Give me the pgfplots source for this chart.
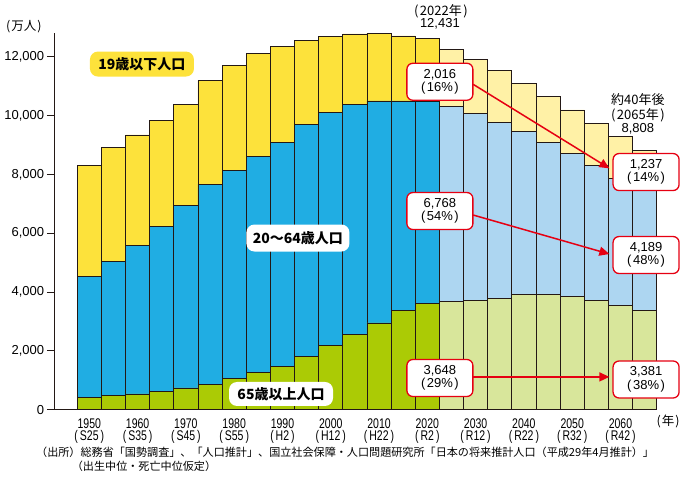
\documentclass[border=0pt]{standalone}
\usepackage{pgfplots}
\pgfplotsset{compat=1.18}
\usepackage{pgfplotstable}
\usepackage{fontspec}
\usetikzlibrary{arrows.meta}
\setmainfont{Noto Sans CJK JP}
\newfontfamily\nf{Liberation Sans}
\newfontfamily\nfc[FakeStretch=0.75]{Liberation Sans}

\definecolor{yel}{HTML}{FDE23B}
\definecolor{blu}{HTML}{20ADE3}
\definecolor{grn}{HTML}{ABCB05}
\definecolor{lyel}{HTML}{FFF1A6}
\definecolor{lblu}{HTML}{ADD6F1}
\definecolor{lgrn}{HTML}{D8E69B}
\definecolor{calred}{HTML}{E60012}
\definecolor{edge}{HTML}{231815}

\newcommand{\pp}[1]{(\kern2pt#1\kern2pt)}

% g/b/y = 65+, 20-64, 0-19 (actual); G/B/Y = projection
\pgfplotstableread{
year g b y G B Y
1950 410 4110 3800 0 0 0
1955 476 4580 3872 0 0 0
1960 534 5056 3752 0 0 0
1965 625 5597 3606 0 0 0
1970 738 6212 3422 0 0 0
1975 864 6810 3520 0 0 0
1980 1070 7070 3566 0 0 0
1985 1260 7356 3489 0 0 0
1990 1480 7612 3269 0 0 0
1995 1820 7884 2853 0 0 0
2000 2200 7900 2593 0 0 0
2005 2567 7817 2393 0 0 0
2010 2950 7550 2306 0 0 0
2015 3390 7110 2209 0 0 0
2020 3617 6883 2115 0 0 0
2025 0 0 0 3677 6636 1941
2030 0 0 0 3716 6372 1825
2035 0 0 0 3782 5983 1757
2040 0 0 0 3921 5555 1616
2045 0 0 0 3919 5159 1564
2050 0 0 0 3841 4877 1474
2055 0 0 0 3704 4616 1424
2060 0 0 0 3540 4328 1416
2065 0 0 0 3381 4190 1237
}\pop

\pgfplotsset{frame/.style={
  at={(54.3pt,67.3pt)}, anchor=south west,
  scale only axis, width=602.4pt, height=376.4pt,
  xmin=1942.75, xmax=2067.5, ymin=0, ymax=12800, clip=false}}

\begin{document}
\begin{tikzpicture}[
  callout/.style={draw=calred, line width=1.3pt, fill=white, rounded corners=6pt,
    minimum width=66pt, minimum height=37pt, align=center, inner sep=0pt,
    font=\nf\fontsize{13}{13.5}\selectfont},
  grp/.style={rounded corners=8pt, minimum height=25pt, inner sep=0pt,
    font=\bfseries\fontsize{14}{14}\selectfont},
  arr/.style={calred, line width=1.5pt, -{Triangle[length=10pt,width=9pt]}},
  note/.style={font=\fontsize{13}{13.5}\selectfont, align=center, inner sep=0pt}]
\useasboundingbox (0,0) rectangle (681pt,477pt);
\begin{axis}[frame,
  ybar stacked, bar width=5,
  axis x line=bottom, axis y line=left,
  axis line style={edge, line width=0.9pt, -},
  ytick={0,2000,...,12000},
  scaled y ticks=false,
  tick align=outside, major tick length=7.5pt,
  ytick style={edge, line width=0.9pt},
  xtick={1950,1960,...,2060},
  xtick style={draw=none},
  xticklabels={{1950\\\pp{S25}},{1960\\\pp{S35}},{1970\\\pp{S45}},{1980\\\pp{S55}},
    {1990\\\pp{H2}},{2000\\\pp{H12}},{2010\\\pp{H22}},{2020\\\pp{R2}},
    {2030\\\pp{R12}},{2040\\\pp{R22}},{2050\\\pp{R32}},{2060\\\pp{R42}}},
  xticklabel style={align=center, font=\nfc\fontsize{14}{12.5}\selectfont, inner sep=0pt, yshift=-1pt},
  yticklabel style={font=\nf\fontsize{13}{13}\selectfont, inner sep=0pt, xshift=-2.5pt},
  /pgf/number format/assume math mode=true,
  /pgf/number format/1000 sep={,},
  every axis plot/.append style={draw=edge, line width=0.8pt},
]
\addplot[fill=grn] table[x=year,y=g] {\pop};
\addplot[fill=blu] table[x=year,y=b] {\pop};
\addplot[fill=yel] table[x=year,y=y] {\pop};
\addplot[fill=lgrn] table[x=year,y=G] {\pop};
\addplot[fill=lblu] table[x=year,y=B] {\pop};
\addplot[fill=lyel] table[x=year,y=Y] {\pop};
\end{axis}
\begin{axis}[frame, hide axis]
\node[grp, fill=yel, minimum width=104pt] at (axis cs:1960.9,11754) {19歳以下人口};
\node[grp, fill=white, minimum width=103pt, minimum height=27pt] at (axis cs:1993.2,5838) {20〜64歳人口};
\node[grp, fill=white, minimum width=104pt, minimum height=24pt] at (axis cs:1989.7,534) {65歳以上人口};

\draw[arr] (axis cs:2029.5,11064) -- (axis cs:2057.7,8208);
\draw[arr] (axis cs:2029.5,6620) -- (axis cs:2057.7,5294);
\draw[arr] (axis cs:2029.5,1115) -- (axis cs:2057.7,1115);

\node[callout] at (axis cs:2022.6,11152) {2,016\\(\kern1.5pt16\%\kern1.5pt)};
\node[callout] at (axis cs:2022.6,6756) {6,768\\(\kern1.5pt54\%\kern1.5pt)};
\node[callout] at (axis cs:2022.6,1078) {3,648\\(\kern1.5pt29\%\kern1.5pt)};
\node[callout] at (axis cs:2065.3,8082) {1,237\\(\kern1.5pt14\%\kern1.5pt)};
\node[callout] at (axis cs:2065.3,5260) {4,189\\(\kern1.5pt48\%\kern1.5pt)};
\node[callout] at (axis cs:2065.3,1027) {3,381\\(\kern1.5pt38\%\kern1.5pt)};

\node[note] at (axis cs:2022.8,13556) {(\kern1.5pt2022年\kern1.5pt)};
\node[note, font=\nf\fontsize{13}{13.5}\selectfont] at (axis cs:2022.6,13114) {12,431};
\node[note] at (axis cs:2063.6,10530) {約40年後};
\node[note] at (axis cs:2063.6,10020) {(\kern1.5pt2065年\kern1.5pt)};
\node[note, font=\nf\fontsize{13}{13.5}\selectfont] at (axis cs:2063.6,9568) {8,808};
\node[note, anchor=west] at (axis cs:1943.3,13012) {};
\node[note, anchor=west, font=\fontsize{12.5}{13}\selectfont] at ([xshift=-48.3pt]axis cs:1942.75,13012) {(\kern1pt万人\kern1pt)};
\node[note, anchor=east, font=\fontsize{12.5}{13}\selectfont] at ([xshift=23pt]axis cs:2067.5,-408) {(\kern1pt年\kern1pt)};
\node[anchor=west, inner sep=0pt, font=\fontsize{11.1}{12}\selectfont] at (axis cs:1938.96,-1462)
  {（出所）総務省「国勢調査」、「人口推計」、国立社会保障・人口問題研究所「日本の将来推計人口（平成29年4月推計）」};
\node[anchor=west, inner sep=0pt, font=\fontsize{11.1}{12}\selectfont] at (axis cs:1946.35,-1938)
  {（出生中位・死亡中位仮定）};
\end{axis}
\end{tikzpicture}
\end{document}
